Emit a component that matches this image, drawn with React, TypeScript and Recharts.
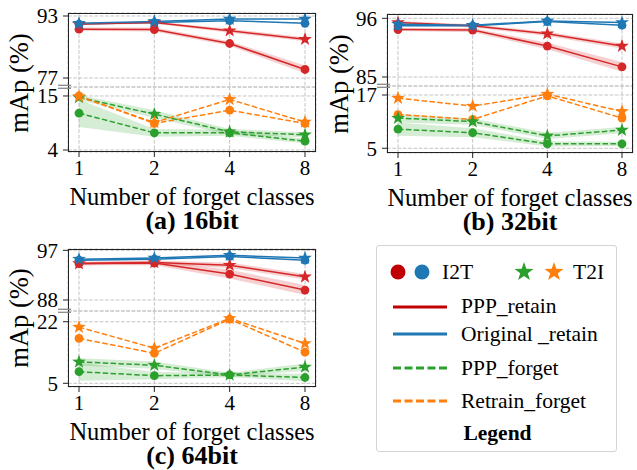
import React from "react";
import { ComposedChart, Line, Area, XAxis, YAxis, CartesianGrid } from "recharts";

const forgetClasses = ["1", "2", "4", "8"];

// (a) 16bit
const b16PppRetainI2T = [89.6, 89.5, 85.9, 79.2];
const b16PppRetainT2I = [90.9, 91.3, 89.2, 87.0];
const b16OrigRetainI2T = [90.9, 91.3, 91.8, 91.1];
const b16OrigRetainT2I = [91.1, 91.6, 92.2, 92.2];
const b16PppForgetI2T = [11.5, 7.5, 7.5, 5.8];
const b16PppForgetT2I = [14.7, 11.3, 7.7, 7.1];
const b16RetrainForgetI2T = [15.0, 9.4, 12.1, 9.4];
const b16RetrainForgetT2I = [14.9, 9.6, 14.3, 9.7];
const b16RetainSdI2T = [0.4, 0.5, 0.6, 1.0];
const b16RetainSdT2I = [0.3, 0.3, 0.5, 0.5];
const b16ForgetSdI2T = [2.8, 0.8, 0.6, 0.5];
const b16ForgetSdT2I = [0.5, 0.8, 0.6, 0.5];

// (b) 32bit
const b32PppRetainI2T = [93.9, 93.8, 90.8, 86.9];
const b32PppRetainT2I = [95.2, 94.6, 93.1, 90.8];
const b32OrigRetainI2T = [94.6, 94.6, 95.4, 94.7];
const b32OrigRetainT2I = [94.9, 94.7, 95.5, 95.2];
const b32PppForgetI2T = [9.3, 8.5, 6.0, 6.0];
const b32PppForgetT2I = [11.8, 11.0, 7.8, 9.1];
const b32RetrainForgetI2T = [12.6, 11.5, 16.8, 11.8];
const b32RetrainForgetT2I = [16.3, 14.5, 17.2, 13.3];
const b32RetainSdI2T = [0.3, 0.4, 0.6, 0.9];
const b32RetainSdT2I = [0.3, 0.3, 0.4, 0.5];
const b32ForgetSdI2T = [1.5, 1.0, 0.6, 0.5];
const b32ForgetSdT2I = [1.0, 0.7, 0.7, 0.7];

// (c) 64bit
const b64PppRetainI2T = [94.6, 94.7, 92.7, 89.8];
const b64PppRetainT2I = [94.6, 94.8, 94.3, 92.2];
const b64OrigRetainI2T = [95.2, 95.4, 95.9, 95.2];
const b64OrigRetainT2I = [95.4, 95.6, 96.1, 95.6];
const b64PppForgetI2T = [8.2, 7.1, 7.3, 6.6];
const b64PppForgetT2I = [10.9, 10.0, 7.3, 9.5];
const b64RetrainForgetI2T = [17.4, 13.3, 22.7, 13.6];
const b64RetrainForgetT2I = [20.5, 14.7, 22.9, 16.0];
const b64RetainSdI2T = [0.3, 0.4, 0.8, 0.9];
const b64RetainSdT2I = [0.3, 0.3, 0.5, 0.5];
const b64ForgetSdI2T = [2.5, 1.0, 0.6, 1.0];
const b64ForgetSdT2I = [1.0, 1.0, 0.6, 1.0];

const RED = "#d62728";
const BLUE = "#1f77b4";
const GREEN = "#2ca02c";
const ORANGE = "#ff7f0e";
const SERIF = '"Liberation Serif", "Times New Roman", serif';

const band = (v: number[], sd: number[], i: number) => [v[i] - sd[i], v[i] + sd[i]];

const buildRows = (
  rc: number[], rs: number[], bc: number[], bs: number[],
  gc: number[], gs: number[], oc: number[], os: number[],
  rSdC: number[], rSdS: number[], gSdC: number[], gSdS: number[]
) =>
  forgetClasses.map((k, i) => ({
    k,
    rc: rc[i], rs: rs[i], bc: bc[i], bs: bs[i],
    gc: gc[i], gs: gs[i], oc: oc[i], os: os[i],
    rcBand: band(rc, rSdC, i),
    rsBand: band(rs, rSdS, i),
    gcBand: band(gc, gSdC, i),
    gsBand: band(gs, gSdS, i),
  }));

const starPath = (cx: number, cy: number, R: number) => {
  const r = R * 0.4;
  let d = "";
  for (let j = 0; j < 10; j++) {
    const rad = j % 2 === 0 ? R : r;
    const a = -Math.PI / 2 + (j * Math.PI) / 5;
    d += (j === 0 ? "M" : "L") + (cx + rad * Math.cos(a)).toFixed(2) + "," + (cy + rad * Math.sin(a)).toFixed(2);
  }
  return d + "Z";
};

const circleDot = (color: string) => (p: any) =>
  <circle key={`c-${p.index}`} cx={p.cx} cy={p.cy} r={4.4} fill={color} />;
const starDot = (color: string) => (p: any) =>
  <path key={`s-${p.index}`} d={starPath(p.cx, p.cy, 7.2)} fill={color} />;

const panels = [
  {
    ox: 0, L: 68, R: 316, T: 13, B: 152, brk: 87,
    topDomain: [74.68, 93.77], topTicks: [77, 93],
    botDomain: [3.59, 16.83], botTicks: [4, 15],
    title: "(a) 16bit",
    rows: buildRows(b16PppRetainI2T, b16PppRetainT2I, b16OrigRetainI2T, b16OrigRetainT2I,
      b16PppForgetI2T, b16PppForgetT2I, b16RetrainForgetI2T, b16RetrainForgetT2I,
      b16RetainSdI2T, b16RetainSdT2I, b16ForgetSdI2T, b16ForgetSdT2I),
  },
  {
    ox: 320, L: 387, R: 633, T: 14, B: 153, brk: 86,
    topDomain: [83.31, 96.81], topTicks: [85, 96],
    botDomain: [3.94, 19.03], botTicks: [5, 17],
    title: "(b) 32bit",
    rows: buildRows(b32PppRetainI2T, b32PppRetainT2I, b32OrigRetainI2T, b32OrigRetainT2I,
      b32PppForgetI2T, b32PppForgetT2I, b32RetrainForgetI2T, b32RetrainForgetT2I,
      b32RetainSdI2T, b32RetainSdT2I, b32ForgetSdI2T, b32ForgetSdT2I),
  },
  {
    ox: 0, L: 68, R: 316, T: 249, B: 387, brk: 311,
    topDomain: [86.01, 97.24], topTicks: [88, 97],
    botDomain: [3.98, 24.96], botTicks: [5, 22],
    title: "(c) 64bit",
    rows: buildRows(b64PppRetainI2T, b64PppRetainT2I, b64OrigRetainI2T, b64OrigRetainT2I,
      b64PppForgetI2T, b64PppForgetT2I, b64RetrainForgetI2T, b64RetrainForgetT2I,
      b64RetainSdI2T, b64RetainSdT2I, b64ForgetSdI2T, b64ForgetSdT2I),
  },
];

const tickStyle = { fontSize: 21, fill: "#000", fontFamily: SERIF };
const DASH = "5.5 2.4";

const Panel = ({ p }: { p: (typeof panels)[number] }) => {
  const chartW = p.R + 4 - p.ox;
  const pad = 12;
  const xAxisProps = {
    dataKey: "k",
    type: "category" as const,
    scale: "point" as const,
    padding: { left: 11, right: 11 },
    interval: 0,
  };
  const yAxisCommon = {
    type: "number" as const,
    width: p.L - p.ox,
    allowDataOverflow: true,
    tickSize: 5,
    tickMargin: 5,
    axisLine: false,
    tickLine: { stroke: "#222" },
    tick: tickStyle,
  };
  const grid = <CartesianGrid stroke="#c4c4c4" strokeDasharray="3.7 1.6" />;
  return (
    <>
      <div style={{ position: "absolute", left: p.ox, top: 0 }}>
        <ComposedChart
          width={chartW}
          height={p.brk + pad}
          data={p.rows}
          margin={{ top: p.T, right: 4, bottom: pad, left: 0 }}
        >
          {grid}
          <XAxis {...xAxisProps} hide />
          <YAxis {...yAxisCommon} domain={p.topDomain} ticks={p.topTicks} />
          <Area dataKey="rcBand" stroke="none" fill={RED} fillOpacity={0.22} isAnimationActive={false} />
          <Area dataKey="rsBand" stroke="none" fill={RED} fillOpacity={0.22} isAnimationActive={false} />
          <Line dataKey="rc" stroke={RED} strokeWidth={1.5} dot={circleDot(RED)} activeDot={false} isAnimationActive={false} />
          <Line dataKey="bc" stroke={BLUE} strokeWidth={1.5} dot={circleDot(BLUE)} activeDot={false} isAnimationActive={false} />
          <Line dataKey="rs" stroke={RED} strokeWidth={1.5} dot={starDot(RED)} activeDot={false} isAnimationActive={false} />
          <Line dataKey="bs" stroke={BLUE} strokeWidth={1.5} dot={starDot(BLUE)} activeDot={false} isAnimationActive={false} />
        </ComposedChart>
      </div>
      <div style={{ position: "absolute", left: p.ox, top: p.brk - pad }}>
        <ComposedChart
          width={chartW}
          height={p.B - p.brk + pad + 30}
          data={p.rows}
          margin={{ top: pad, right: 4, bottom: 0, left: 0 }}
        >
          {grid}
          <XAxis {...xAxisProps} height={30} tickSize={5} tickMargin={3} axisLine={false} tickLine={{ stroke: "#222" }} tick={tickStyle} />
          <YAxis {...yAxisCommon} domain={p.botDomain} ticks={p.botTicks} />
          <Area dataKey="gcBand" stroke="none" fill={GREEN} fillOpacity={0.2} isAnimationActive={false} />
          <Area dataKey="gsBand" stroke="none" fill={GREEN} fillOpacity={0.2} isAnimationActive={false} />
          <Line dataKey="gc" stroke={GREEN} strokeWidth={1.5} strokeDasharray={DASH} dot={circleDot(GREEN)} activeDot={false} isAnimationActive={false} />
          <Line dataKey="oc" stroke={ORANGE} strokeWidth={1.5} strokeDasharray={DASH} dot={circleDot(ORANGE)} activeDot={false} isAnimationActive={false} />
          <Line dataKey="gs" stroke={GREEN} strokeWidth={1.5} strokeDasharray={DASH} dot={starDot(GREEN)} activeDot={false} isAnimationActive={false} />
          <Line dataKey="os" stroke={ORANGE} strokeWidth={1.5} strokeDasharray={DASH} dot={starDot(ORANGE)} activeDot={false} isAnimationActive={false} />
        </ComposedChart>
      </div>
      {/* axes frame */}
      <div
        style={{
          position: "absolute", left: p.L, top: p.T, width: p.R - p.L, height: p.B - p.T,
          border: "1.2px solid #222", boxSizing: "border-box", pointerEvents: "none",
        }}
      />
      {/* broken axis mark */}
      <svg style={{ position: "absolute", left: p.L - 10, top: p.brk - 4 }} width={14} height={8}>
        <line x1={0} y1={2.3} x2={13} y2={2.3} stroke="#888" strokeWidth={1.3} />
        <line x1={0} y1={5.3} x2={13} y2={5.3} stroke="#888" strokeWidth={1.3} />
      </svg>
      <div
        style={{
          position: "absolute", left: p.ox + 19 - 60, top: (p.T + p.B) / 2 - 15, width: 120, height: 30,
          transform: "rotate(-90deg)", textAlign: "center", fontFamily: SERIF, fontSize: 26.5, lineHeight: "30px",
        }}
      >
        mAp (%)
      </div>
      <div
        style={{
          position: "absolute", left: (p.L + p.R) / 2 - 150, top: p.B + 33, width: 300, textAlign: "center",
          fontFamily: SERIF, fontSize: 24.5, lineHeight: "24px", whiteSpace: "nowrap",
        }}
      >
        Number of forget classes
      </div>
      <div
        style={{
          position: "absolute", left: (p.L + p.R) / 2 - 150, top: p.B + 57, width: 300, textAlign: "center",
          fontFamily: SERIF, fontSize: 26, fontWeight: "bold", lineHeight: "24px",
        }}
      >
        {p.title}
      </div>
    </>
  );
};

const legendText = { position: "absolute" as const, fontFamily: SERIF, fontSize: 21.5, lineHeight: "24px", whiteSpace: "nowrap" as const };

const LegendBox = () => (
  <div
    style={{
      position: "absolute", left: 376, top: 245, width: 241, height: 207,
      border: "1.5px solid #d4d4d4", borderRadius: 3, boxSizing: "border-box",
    }}
  >
    <svg style={{ position: "absolute", left: 0, top: 0 }} width={241} height={207}>
      <circle cx={21} cy={26} r={7.5} fill="#c00000" />
      <circle cx={45} cy={26} r={7.5} fill={BLUE} />
      <path d={starPath(147, 26, 10)} fill={GREEN} />
      <path d={starPath(177, 26, 10)} fill={ORANGE} />
      <line x1={16} y1={61} x2={70} y2={61} stroke="#c00000" strokeWidth={3} />
      <line x1={16} y1={88} x2={70} y2={88} stroke={BLUE} strokeWidth={3} />
      <line x1={16} y1={122} x2={70} y2={122} stroke={GREEN} strokeWidth={3} strokeDasharray="8 3.5" />
      <line x1={16} y1={155} x2={70} y2={155} stroke={ORANGE} strokeWidth={3} strokeDasharray="8 3.5" />
    </svg>
    <div style={{ ...legendText, left: 65, top: 14 }}>I2T</div>
    <div style={{ ...legendText, left: 196, top: 14 }}>T2I</div>
    <div style={{ ...legendText, left: 84, top: 48 }}>PPP_retain</div>
    <div style={{ ...legendText, left: 84, top: 76 }}>Original _retain</div>
    <div style={{ ...legendText, left: 84, top: 110 }}>PPP_forget</div>
    <div style={{ ...legendText, left: 84, top: 143 }}>Retrain_forget</div>
    <div style={{ ...legendText, left: 0, width: 241, textAlign: "center", top: 175, fontWeight: "bold" }}>Legend</div>
  </div>
);

export default function App() {
  return (
    <div style={{ position: "absolute", left: 0, top: 0, width: 637, height: 470, background: "#fff", overflow: "hidden" }}>
      {panels.map((p) => (
        <Panel key={p.title} p={p} />
      ))}
      <LegendBox />
    </div>
  );
}
